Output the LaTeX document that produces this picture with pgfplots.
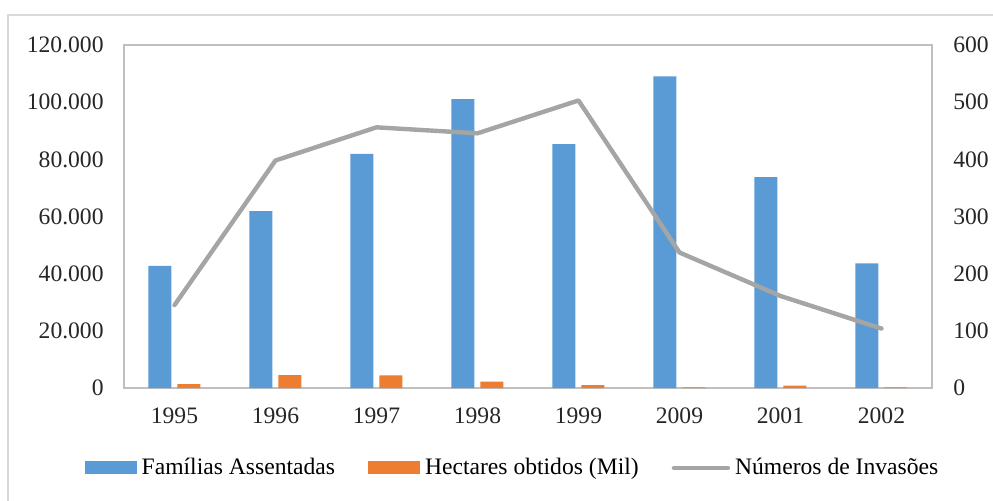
\documentclass[border=0pt]{standalone}
\usepackage{pgfplots}
\pgfplotsset{compat=1.18}
\usepackage{fontspec}
\setmainfont{Liberation Serif}
\definecolor{cblue}{HTML}{5B9BD5}
\definecolor{corange}{HTML}{ED7D31}
\definecolor{cgray}{HTML}{A5A5A5}
\definecolor{outerframe}{HTML}{D9D9D9}
\definecolor{pframe}{HTML}{BFBFBF}
\definecolor{lbl}{HTML}{262626}
\begin{document}
\fontsize{11.8}{14}\selectfont
\begin{tikzpicture}[x=1pt,y=1pt]
\useasboundingbox (0,0) rectangle (496.5,250);
\draw[outerframe, line width=0.75pt] (4,-5) -- (4,242.5) -- (505,242.5);
\begin{axis}[at={(62pt,56pt)}, anchor=south west, scale only axis,
  width=404pt, height=171.5pt,
  xmin=-0.5, xmax=7.5, ymin=0, ymax=120000,
  axis line style={draw=pframe, line width=0.7pt},
  xtick={0,...,7}, xticklabels={1995,1996,1997,1998,1999,2009,2001,2002},
  ytick={0,20000,40000,60000,80000,100000,120000},
  yticklabels={0,20.000,40.000,60.000,80.000,100.000,120.000},
  scaled y ticks=false,
  major tick length=0pt, ytick pos=left, xtick pos=bottom,
  tick label style={text=lbl},
  yticklabel style={inner sep=0pt, xshift=-10pt},
  xticklabel style={inner sep=0pt, yshift=-9.5pt},
  legend columns=3,
  legend style={draw=none, fill=none, at={(axis description cs:0.4827,-0.233)}, anchor=center,
    /tikz/every even column/.append style={column sep=14pt},
    nodes={inner sep=2.5pt, text=black}},
]
\addplot[ybar, draw=none, fill=cblue, bar width=11.5pt, bar shift=-7.25pt,
  legend image code/.code={\fill[cblue] (0pt,-3.25pt) rectangle (26pt,3.25pt);}]
  coordinates {(0,42700)(1,61900)(2,81900)(3,101100)(4,85300)(5,109000)(6,73800)(7,43600)};
\addlegendentry{Famílias Assentadas}
\addplot[ybar, draw=none, fill=corange, bar width=11.5pt, bar shift=7.25pt,
  legend image code/.code={\fill[corange] (0pt,-3.25pt) rectangle (26pt,3.25pt);}]
  coordinates {(0,1400)(1,4500)(2,4400)(3,2200)(4,1000)(5,200)(6,800)(7,200)};
\addlegendentry{Hectares obtidos (Mil)}
\addlegendimage{cgray, line width=2.2pt, legend image code/.code={\draw[cgray, line width=2.2pt, line cap=round] (0pt,0pt) -- (27pt,0pt);}}
\addlegendentry{Números de Invasões}
\end{axis}
\begin{axis}[at={(62pt,56pt)}, anchor=south west, scale only axis,
  width=404pt, height=171.5pt,
  xmin=-0.5, xmax=7.5, ymin=0, ymax=600,
  axis x line=none, axis y line*=right, y axis line style={draw=none},
  ytick={0,100,200,300,400,500,600},
  major tick length=0pt,
  /pgf/number format/assume math mode=true,
  tick label style={text=lbl},
  yticklabel style={inner sep=0pt, xshift=10.5pt, anchor=west},
]
\addplot[cgray, line width=2.2pt, line join=round, line cap=round]
  coordinates {(0,145)(1,398)(2,456)(3,445.5)(4,503)(5,237)(6,161)(7,104)};
\end{axis}
\end{tikzpicture}
\end{document}
